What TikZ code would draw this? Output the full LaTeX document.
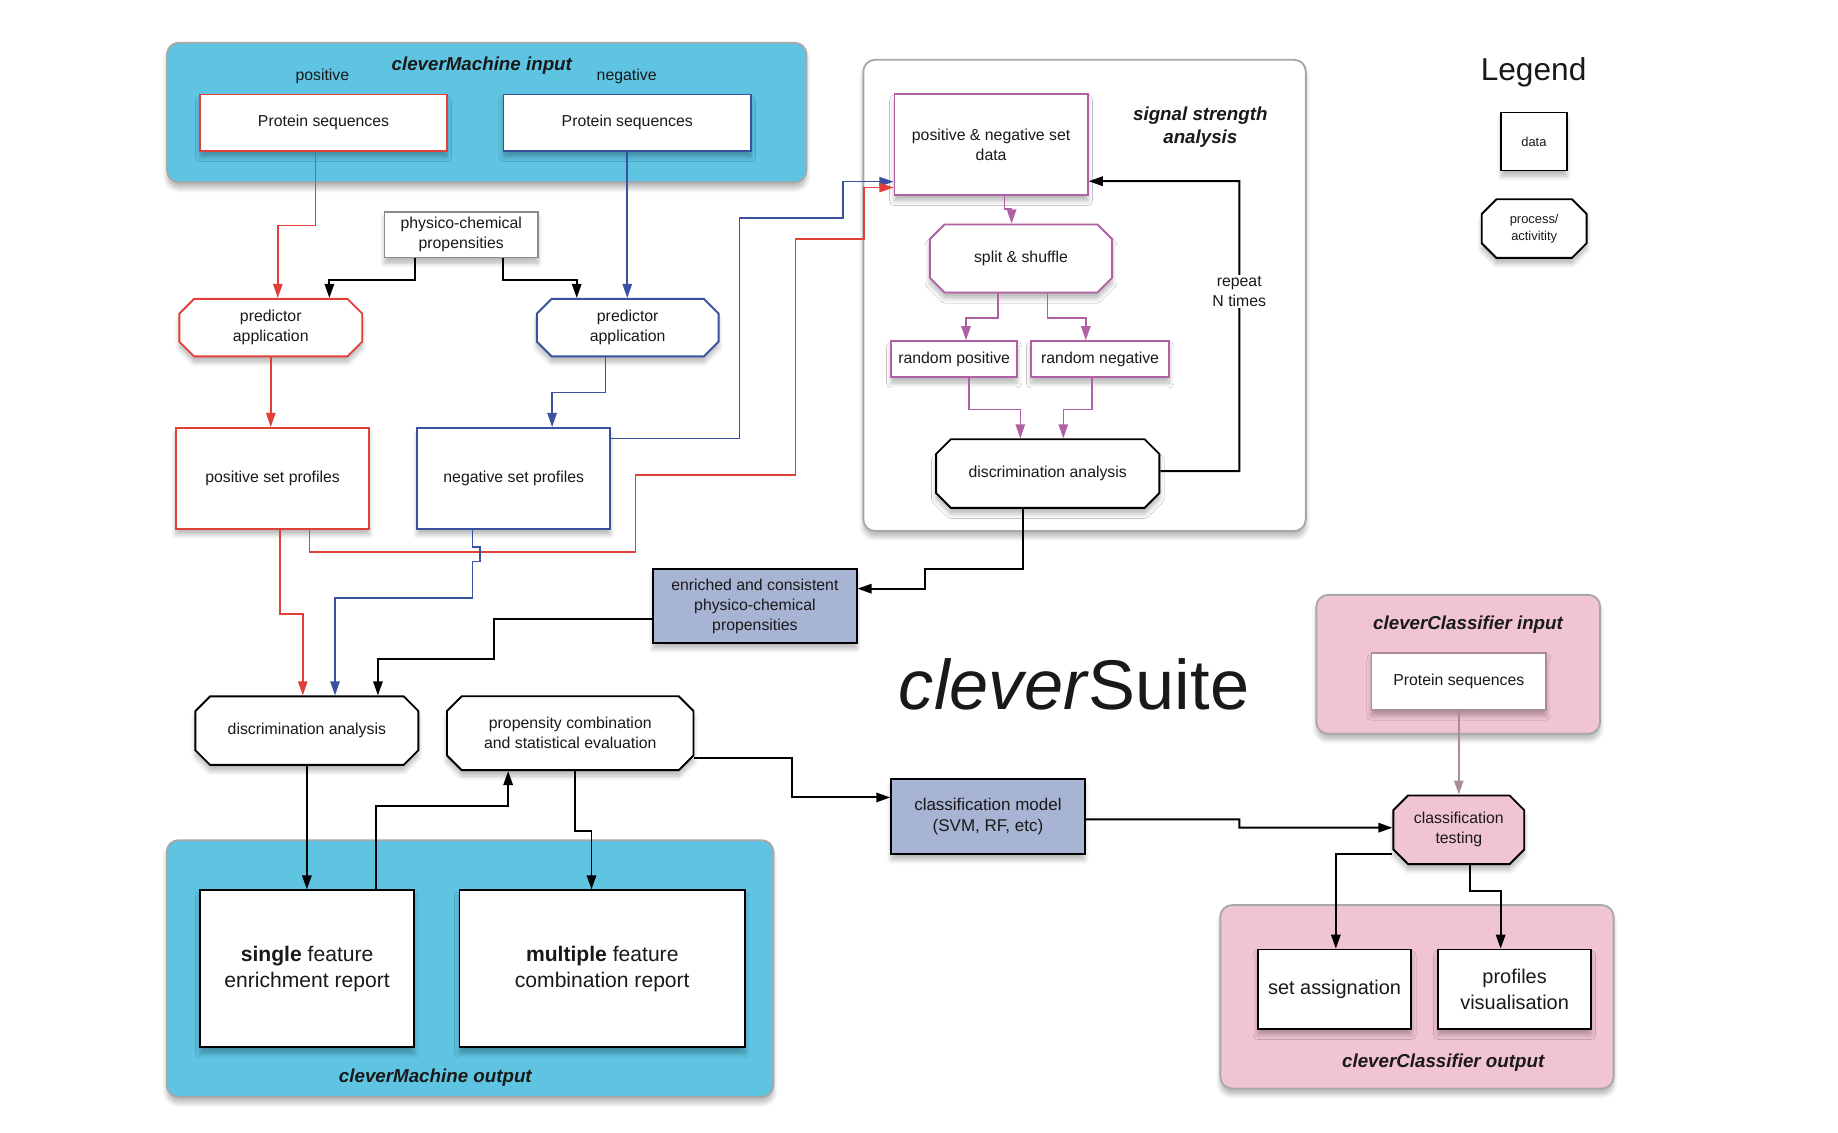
\documentclass[tikz,border=0pt]{standalone}
\usepackage{fontspec}
\setmainfont{Liberation Sans}
\usetikzlibrary{arrows.meta,shapes.misc,shadows.blur}
\definecolor{cmcyan}{RGB}{94,196,226}
\definecolor{ccpink}{RGB}{241,196,210}
\definecolor{posred}{RGB}{224,64,56}
\definecolor{negblue}{RGB}{56,82,160}
\definecolor{ssmauve}{RGB}{176,96,164}
\definecolor{resfill}{RGB}{168,180,212}
\definecolor{framegray}{RGB}{168,168,168}
\definecolor{ccline}{RGB}{168,140,158}
\tikzset{
  every node/.style={font=\fontsize{13.5}{17}\selectfont,align=center,text=black!90},
  soft shadow/.style={blur shadow={shadow xshift=0pt,shadow yshift=-5pt,shadow blur radius=4pt,shadow blur steps=6,shadow opacity=28}},
  group/.style={draw=framegray,line width=1.6pt,rounded corners=10pt,soft shadow},
  title/.style={font=\fontsize{16}{20}\selectfont\bfseries\itshape},
  databox/.style={rectangle,draw,fill=white,line width=1.5pt,soft shadow},
  procbox/.style={chamfered rectangle,chamfered rectangle angle=45,chamfered rectangle xsep=9pt,
    draw,fill=white,line width=1.6pt,soft shadow},
  link/.style={->,line width=1.7pt},
  pos link/.style={->,line width=1.3pt,posred},
  neg link/.style={->,line width=1.3pt,negblue},
  ss link/.style={->,line width=1.3pt,ssmauve},
}
\begin{document}
\begin{tikzpicture}[x=1pt,y=-1pt,>={Triangle[length=12pt,width=8pt]}]
\useasboundingbox (0,0) rectangle (1568,966);
% groups
\node[group,fill=cmcyan,minimum width=545.5pt,minimum height=119pt] (cmin) at (415.25,96) {};
\node[group,fill=white,minimum width=377.5pt,minimum height=402pt] (ssa) at (925.25,252) {};
\node[group,fill=cmcyan,minimum width=517.5pt,minimum height=219pt] (cmout) at (401,826.3) {};
\node[group,fill=ccpink,minimum width=242pt,minimum height=118.5pt] (ccin) at (1244,566.7) {};
\node[group,fill=ccpink,minimum width=335.5pt,minimum height=156.5pt] (ccout) at (1208.8,850.4) {};
\node[title] (cmintitle) at (411,56) {cleverMachine input};
\node[title] (ssatitle) at (1024,108.5) {signal strength\\analysis};
\node[title] (cmouttitle) at (371.4,919) {cleverMachine output};
\node[title] (ccintitle) at (1252.4,533.2) {cleverClassifier input};
\node[title] (ccouttitle) at (1231.2,906.3) {cleverClassifier output};
\node (poslabel) at (275,65.6) {positive};
\node (neglabel) at (534.6,65.6) {negative};

% cleverMachine
\node[databox,draw=posred,minimum width=210.7pt,minimum height=48pt] (seqpos) at (276,104.7) {Protein sequences};
\node[databox,draw=negblue,minimum width=211.2pt,minimum height=48pt] (seqneg) at (535.1,104.7) {Protein sequences};
\node[databox,draw=black!45,minimum width=131pt,minimum height=38.8pt] (physprop) at (393.5,200.2) {physico-chemical\\propensities};
\node[procbox,draw=posred,minimum width=156pt,minimum height=49pt] (predpos) at (231,279.5) {predictor\\application};
\node[procbox,draw=negblue,minimum width=155pt,minimum height=49pt] (predneg) at (535.5,279.5) {predictor\\application};
\node[databox,draw=posred,minimum width=165pt,minimum height=86pt] (profpos) at (232.5,408) {positive set profiles};
\node[databox,draw=negblue,minimum width=164.6pt,minimum height=86pt] (profneg) at (438.3,408) {negative set profiles};
\node[databox,fill=resfill,minimum width=173.7pt,minimum height=62.6pt] (enriched) at (644,517) {enriched and consistent\\physico-chemical\\propensities};
\node[procbox,minimum width=190.2pt,minimum height=58.5pt] (disclow) at (261.8,623.3) {discrimination analysis};
\node[procbox,minimum width=210.3pt,minimum height=63pt] (propcomb) at (486.5,625.5) {propensity combination\\and statistical evaluation};
\node[databox,minimum width=182.7pt,minimum height=134pt,font=\fontsize{18}{22.4}\selectfont] (single) at (262,826.5) {\textbf{single} feature\\enrichment report};
\node[databox,minimum width=243.8pt,minimum height=134pt,font=\fontsize{18}{22.4}\selectfont] (multiple) at (513.8,826.5) {\textbf{multiple} feature\\combination report};
\node[databox,fill=resfill,minimum width=165pt,minimum height=63.7pt,font=\fontsize{14.5}{18.5}\selectfont] (model) at (842.8,696.7) {classification model\\(SVM, RF, etc)};

% signal strength analysis
\node[databox,draw=ssmauve,minimum width=165pt,minimum height=86.3pt] (pnset) at (845.5,123.2) {positive \& negative set\\data};
\node[procbox,draw=ssmauve,minimum width=155.4pt,minimum height=58pt] (split) at (871,220.5) {split \& shuffle};
\node[databox,draw=ssmauve,minimum width=107.5pt,minimum height=30.8pt] (randpos) at (814,306.4) {random positive};
\node[databox,draw=ssmauve,minimum width=118pt,minimum height=30.8pt] (randneg) at (938.5,306.4) {random negative};
\node[procbox,minimum width=190.4pt,minimum height=58.5pt] (discup) at (893.8,404) {discrimination analysis};

% cleverClassifier
\node[databox,draw=ccline,minimum width=149pt,minimum height=48.2pt] (ccseq) at (1244.5,581.3) {Protein sequences};
\node[procbox,fill=ccpink,minimum width=111.7pt,minimum height=58.5pt] (testing) at (1244.5,707.9) {classification\\testing};
\node[databox,minimum width=131pt,minimum height=67.7pt,font=\fontsize{17}{21.7}\selectfont] (setassign) at (1138.5,843.9) {set assignation};
\node[databox,minimum width=130.4pt,minimum height=67.7pt,font=\fontsize{17}{21.7}\selectfont] (profvis) at (1292.1,843.9) {profiles\\visualisation};

% legend and title
\node[font=\fontsize{27}{32}\selectfont] (legend) at (1308.3,61.6) {Legend};
\node[databox,minimum width=55.8pt,minimum height=49.4pt,font=\fontsize{11}{14.5}\selectfont] (legdata) at (1308.6,120.7) {data};
\node[procbox,minimum width=89.5pt,minimum height=50pt,font=\fontsize{11}{14.5}\selectfont] (legproc) at (1308.8,195) {process/\\activitity};
\node[anchor=base west,font=\fontsize{60}{70}\selectfont,inner sep=0pt] (suite) at (766.7,605.4) {\textit{clever}Suite};

% connectors
\draw[pos link] ([xshift=-7pt]seqpos.south) -- ++(0,63) -| ([xshift=6pt]predpos.north);
\draw[neg link] (seqneg.south) -- (seqneg.south |- predneg.north);
\draw[link] ([xshift=-39.5pt]physprop.south) -- ++(0,18.5) -| ([xshift=50pt]predpos.north);
\draw[link] ([xshift=35.5pt]physprop.south) -- ++(0,18.5) -| ([xshift=-43.5pt]predneg.north);
\draw[pos link] (predpos.south) -- (predpos.south |- profpos.north);
\draw[neg link] ([xshift=-19pt]predneg.south) -- ++(0,30) -| ([xshift=32.7pt]profneg.north);
\draw[neg link] ([yshift=34pt]profneg.east) -| (630.7,186) -| (719,155) -- ([yshift=-31.8pt]pnset.west);
\draw[pos link] ([xshift=31.5pt]profpos.south) |- (542,471) |- (678.5,405) |- (737,204) |- ([yshift=-36.8pt]pnset.west);
\draw[pos link] ([xshift=6.3pt]profpos.south) -- ++(0,72) -| ([xshift=-3.5pt]disclow.north);
\draw[neg link] ([xshift=-35.3pt]profneg.south) -- ++(0,15) -- ++(6.4,0) -- ++(0,12.2) -- ++(-6.4,0) -- ++(0,31) -| ([xshift=24pt]disclow.north);
\draw[ss link] ([xshift=11.5pt]pnset.south) -- ++(0,11) -| ([xshift=-8pt]split.north);
\draw[ss link] ([xshift=-19.7pt]split.south) -- ++(0,21) -| ([xshift=10.1pt]randpos.north);
\draw[ss link] ([xshift=22.8pt]split.south) -- ++(0,21) -| ([xshift=-12.2pt]randneg.north);
\draw[ss link] ([xshift=12.8pt]randpos.south) -- ++(0,26.8) -| ([xshift=-23.4pt]discup.north);
\draw[ss link] ([xshift=-6.9pt]randneg.south) -- ++(0,26.8) -| ([xshift=13.3pt]discup.north);
\draw[link] ([yshift=2pt]discup.east) -| (1057.2,154.6)
  node[pos=0.81,fill=white,inner sep=1pt] (repeat) {repeat\\N times} -- ([yshift=-31.4pt]pnset.east);
\draw[link] ([xshift=-21.3pt]discup.south) |- (789.5,485) |- ([yshift=14.8pt]enriched.east);
\draw[link] ([yshift=-11.3pt]enriched.west) -| (421.5,562.4) -| ([xshift=60.6pt]disclow.north);
\draw[link] (disclow.south) -- (disclow.south |- single.north);
\draw[link] ([xshift=58.4pt]single.north) |- (433.5,687.2) -- ([xshift=-53pt]propcomb.south);
\draw[link] ([xshift=4pt]propcomb.south) -- ++(0,51) -| ([xshift=-9.2pt]multiple.north);
\draw[link] ([yshift=-21.1pt]propcomb.east) -| (675.7,680.3) -- ([yshift=16.4pt]model.west);
\draw[->,line width=1.3pt,ccline] (ccseq.south) -- (testing.north);
\draw[link] ([yshift=-2.2pt]model.east) -| (1057.2,706.1) -- ([yshift=1.8pt]testing.west);
\draw[link] ([yshift=-20.6pt]testing.west) -| ([xshift=1.1pt]setassign.north);
\draw[link] ([xshift=9.5pt]testing.south) -- ++(0,22) -| ([xshift=-11.9pt]profvis.north);
\end{tikzpicture}
\end{document}
